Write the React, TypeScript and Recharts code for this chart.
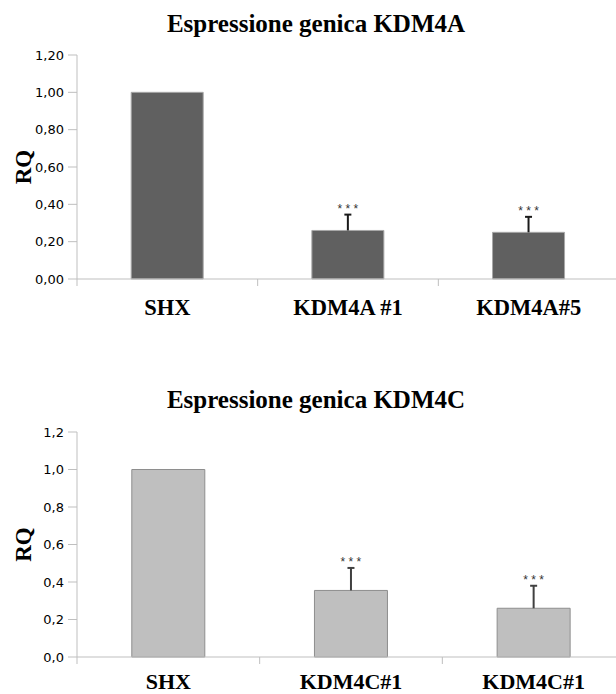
import React from 'react';
import { BarChart, Bar, XAxis, YAxis } from 'recharts';

// KDM4A panel
const categoriesA = ['SHX', 'KDM4A #1', 'KDM4A#5'];
const valuesA = [1.0, 0.26, 0.25];
const errorsA = [0, 0.085, 0.083];
const signifA = ['', '***', '***'];
const ticksA = [0, 0.2, 0.4, 0.6, 0.8, 1.0, 1.2];

// KDM4C panel
const categoriesC = ['SHX', 'KDM4C#1', 'KDM4C#1'];
const valuesC = [1.0, 0.355, 0.26];
const errorsC = [0, 0.12, 0.12];
const signifC = ['', '***', '***'];
const ticksC = [0, 0.2, 0.4, 0.6, 0.8, 1.0, 1.2];

const AXIS = '#bfbfbf';
const SERIF = '"Liberation Serif", "Times New Roman", serif';
const SANS = '"Liberation Sans", Arial, sans-serif';
const TICK_FONT = '"DejaVu Sans", sans-serif';

function makeCategoryTick(labelOffset: number, fontSize: number) {
  return (props: any) => {
    const { x, y, payload, index, visibleTicksCount, width } = props;
    const half = payload.offset ?? width / visibleTicksCount / 2;
    return (
      <g>
        <line x1={x - half} x2={x - half} y1={y} y2={y + 7} stroke={AXIS} />
        {index === visibleTicksCount - 1 && (
          <line x1={x + half} x2={x + half} y1={y} y2={y + 7} stroke={AXIS} />
        )}
        <text x={x} y={y + labelOffset} textAnchor="middle" fontFamily={SERIF} fontWeight="bold" fontSize={fontSize} fill="#000">
          {payload.value}
        </text>
      </g>
    );
  };
}

function makeErrLabel(errors: number[], signif: string[], color: string) {
  return (p: any) => {
    const { x, y, width, height, value, index } = p;
    const err = errors[index];
    if (!err || !value) return null;
    const perUnit = height / value;
    const cx = x + width / 2;
    const top = y - err * perUnit;
    return (
      <g>
        <line x1={cx} x2={cx} y1={y} y2={top} stroke={color} strokeWidth={2} />
        <line x1={cx - 3.5} x2={cx + 3.5} y1={top} y2={top} stroke={color} strokeWidth={2} />
        <text x={cx} y={top - 2} textAnchor="middle" fontFamily={SANS} fontSize={12} fill="#333">
          {signif[index].split('').join(' ')}
        </text>
      </g>
    );
  };
}

function RQLabel(p: any) {
  const { viewBox } = p;
  const x = viewBox.x + 31;
  const y = viewBox.y + viewBox.height / 2;
  return (
    <text x={x} y={y} transform={`rotate(-90, ${x}, ${y})`} textAnchor="middle"
      fontFamily={SERIF} fontWeight="bold" fontSize={23} fill="#000">RQ</text>
  );
}

interface PanelProps {
  categories: string[];
  values: number[];
  errors: number[];
  signif: string[];
  ticks: number[];
  decimals: number;
  fill: string;
  stroke: string;
  errColor: string;
  width: number;
  top: number;
  xHeight: number;
  labelOffset: number;
  labelSize: number;
}

function Panel({ categories, values, errors, signif, ticks, decimals, fill, stroke, errColor, width, top, xHeight, labelOffset, labelSize }: PanelProps) {
  const data = categories.map((c, i) => ({ name: c, value: values[i] }));
  return (
    <BarChart width={width} height={330} data={data} barCategoryGap="30%"
      margin={{ top, right: 0, left: 0, bottom: 0 }}>
      <XAxis dataKey="name" height={xHeight} axisLine={{ stroke: AXIS }} tickLine={false}
        tickSize={0} tickMargin={0} interval={0} tick={makeCategoryTick(labelOffset, labelSize)} />
      <YAxis width={77} domain={[0, 1.2]} ticks={ticks} interval={0} axisLine={{ stroke: AXIS }}
        tickLine={{ stroke: AXIS }} tickSize={9} tickMargin={4}
        tick={{ fontFamily: TICK_FONT, fontSize: 13, fill: '#000' }}
        tickFormatter={(v: number) => v.toFixed(decimals).replace('.', ',')}
        label={<RQLabel />} />
      <Bar dataKey="value" fill={fill} stroke={stroke} strokeWidth={1} isAnimationActive={false}
        label={makeErrLabel(errors, signif, errColor)} />
    </BarChart>
  );
}

const titleStyle = (top: number): React.CSSProperties => ({
  position: 'absolute', left: 0, top, width: 632, textAlign: 'center',
  fontFamily: SERIF, fontWeight: 'bold', fontSize: 25, lineHeight: '25px', color: '#000',
});

export default function App() {
  return (
    <div style={{ position: 'absolute', left: 0, top: 0, width: 616, height: 694, overflow: 'hidden', background: '#fff' }}>
      <div style={{ position: 'absolute', left: 0, top: 0 }}>
        <Panel categories={categoriesA} values={valuesA} errors={errorsA} signif={signifA} ticks={ticksA}
          decimals={2} fill="#606060" stroke="#a8a8a8" errColor="#1a1a1a" width={619} top={55} xHeight={51}
          labelOffset={36} labelSize={22.5} />
      </div>
      <div style={{ position: 'absolute', left: 0, top: 380 }}>
        <Panel categories={categoriesC} values={valuesC} errors={errorsC} signif={signifC} ticks={ticksC}
          decimals={1} fill="#bfbfbf" stroke="#8e8e8e" errColor="#404040" width={625} top={52} xHeight={53}
          labelOffset={32} labelSize={22} />
      </div>
      <div style={titleStyle(11)}>Espressione genica KDM4A</div>
      <div style={titleStyle(387)}>Espressione genica KDM4C</div>
    </div>
  );
}
